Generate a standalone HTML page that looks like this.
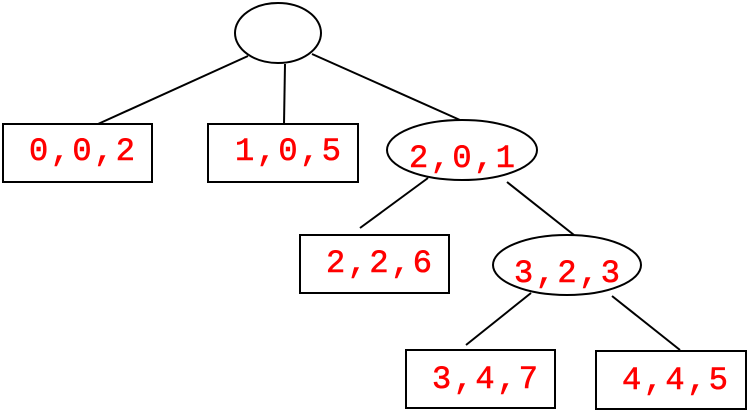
<!DOCTYPE html>
<html><head><meta charset="utf-8"><style>
html,body{margin:0;padding:0;background:#fff;}
svg{display:block;}
text{font-family:"Liberation Mono",monospace;font-size:32px;fill:#ff0000;stroke:#ff0000;stroke-width:0.6px;}
</style></head><body>
<svg width="750" height="412" viewBox="0 0 750 412">
<g stroke="#000" stroke-width="2" fill="none">
<line x1="248" y1="56" x2="98" y2="124"/>
<line x1="285" y1="64" x2="284" y2="124"/>
<line x1="312" y1="54" x2="460" y2="120"/>
<line x1="428" y1="178" x2="360" y2="228"/>
<line x1="507" y1="182" x2="574" y2="235"/>
<line x1="531" y1="293" x2="466" y2="345"/>
<line x1="612" y1="296" x2="680" y2="350"/>
</g>
<g stroke="#000" stroke-width="2" fill="#fff">
<ellipse cx="278" cy="33" rx="43" ry="30"/>
<rect x="3" y="124" width="149" height="58"/>
<rect x="208" y="124" width="150" height="58"/>
<ellipse cx="462" cy="150" rx="75" ry="30"/>
<rect x="300" y="235" width="149" height="58"/>
<ellipse cx="567" cy="265" rx="74" ry="30"/>
<rect x="406" y="350" width="149" height="58"/>
<rect x="596" y="351" width="150" height="58"/>
</g>
<text x="29" y="160" textLength="106">0,0,2</text>
<text x="235" y="160" textLength="106">1,0,5</text>
<text x="409" y="167" textLength="106">2,0,1</text>
<text x="326" y="272" textLength="106">2,2,6</text>
<text x="514" y="282" textLength="106">3,2,3</text>
<text x="432" y="388" textLength="106">3,4,7</text>
<text x="622" y="389" textLength="106">4,4,5</text>
</svg>
</body></html>
